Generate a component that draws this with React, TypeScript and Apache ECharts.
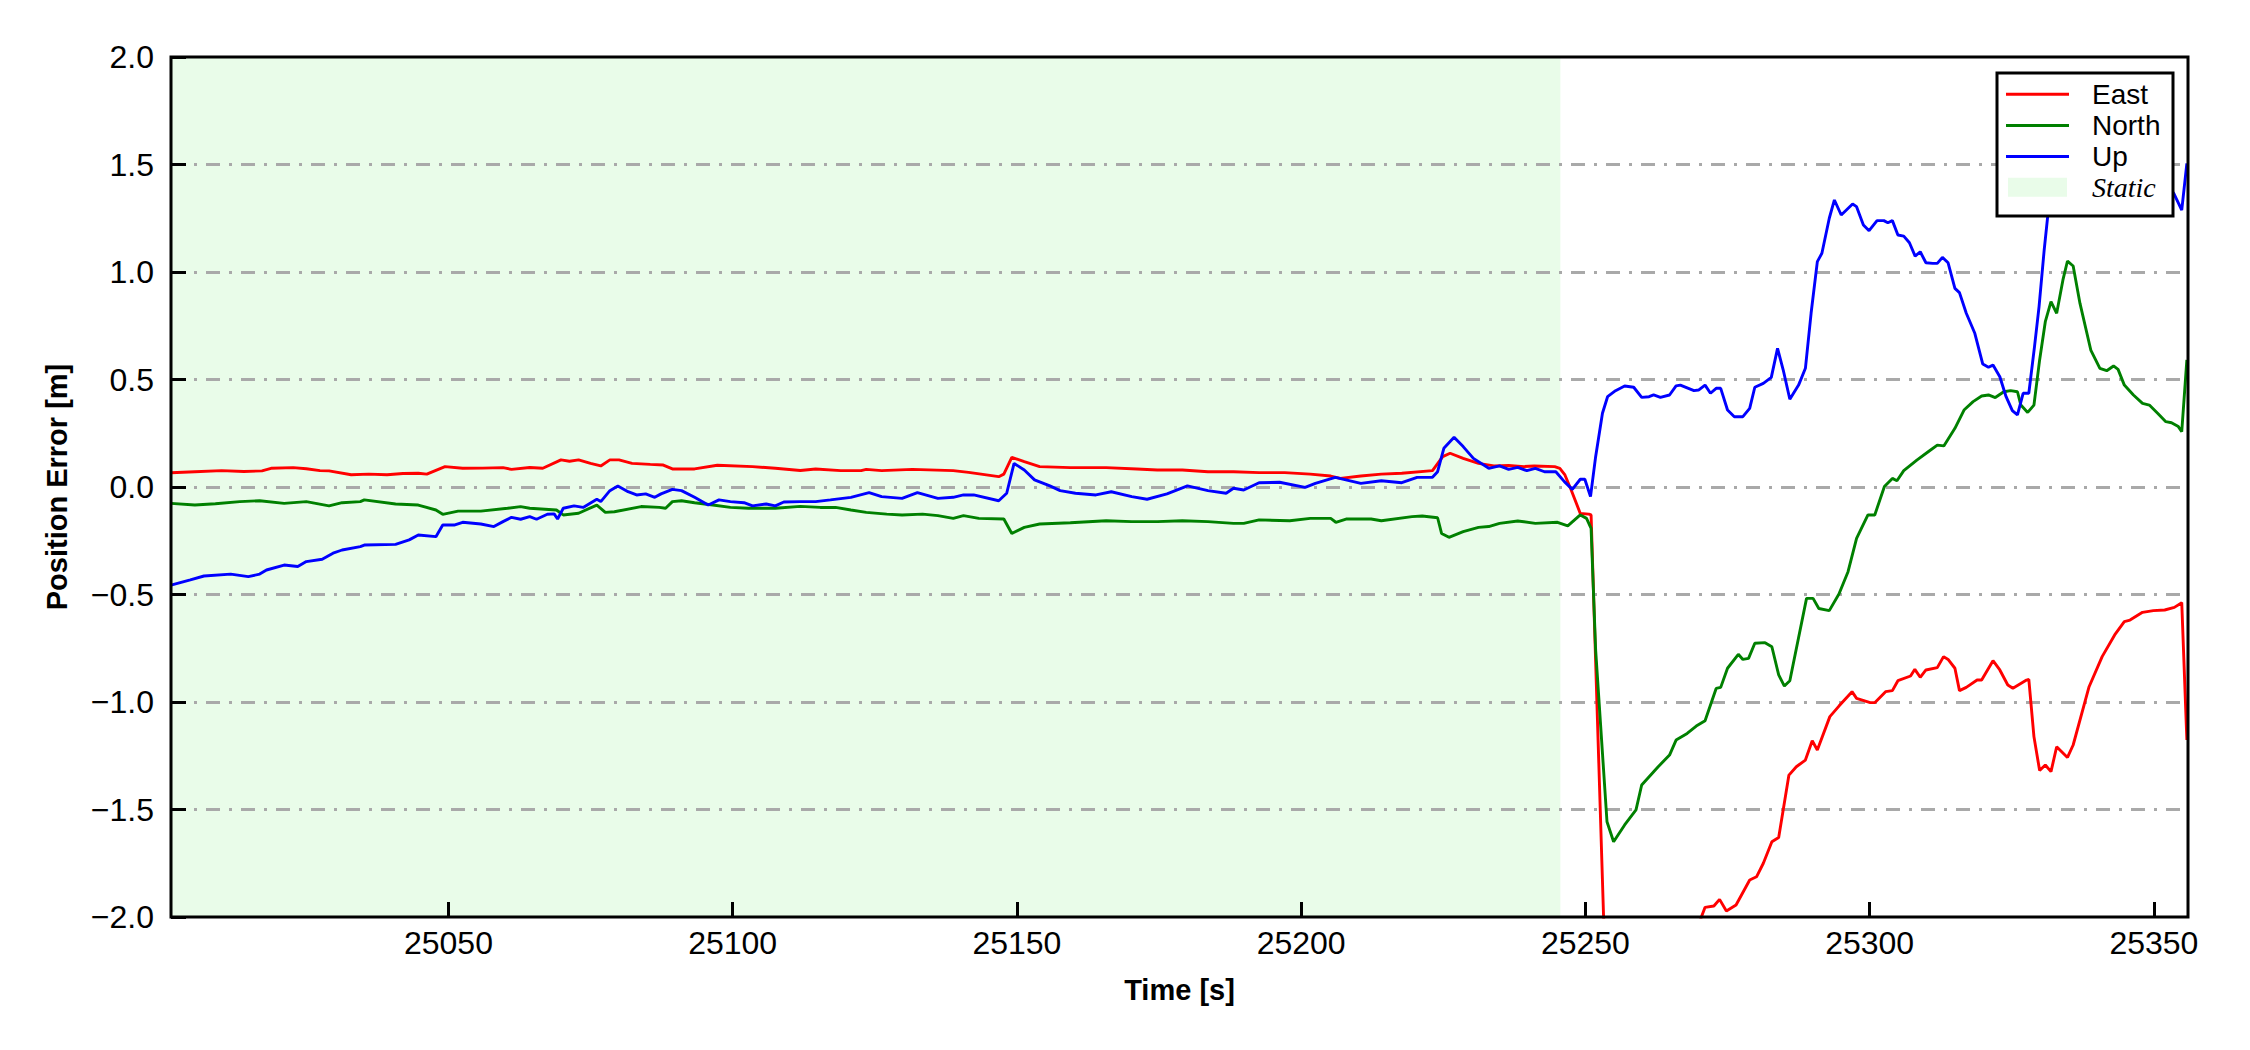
import React, { useEffect, useRef } from "react";
import * as echarts from "echarts";

// ---------- axis ranges & ticks ----------
const X_MIN = 25001.2;
const X_MAX = 25356.0;
const xTicks = [25050, 25100, 25150, 25200, 25250, 25300, 25350];
const Y_MIN = -2;
const Y_MAX = 2;
const Y_STEP = 0.5;

// ---------- static period ----------
const staticSpan = [25001.2, 25245.6];

// ---------- series names / colours ----------
const seriesNames = ["East", "North", "Up"];
const seriesColors = ["#ff0000", "#008000", "#0000ff"];
const staticLabel = "Static";
const staticColor = "#e9fce9";

// ---------- East ----------
const eastT = [
  25001.2, 25005.4, 25010.1, 25014, 25017.2, 25018.8, 25022.7, 25025, 25027.4, 25029.0,
  25032.9, 25036, 25039.2, 25042, 25044.7, 25046.2, 25049.4, 25052.5, 25056, 25059.6,
  25061.1, 25064.3, 25066.6, 25069.8, 25071.3, 25072.9, 25075, 25076.8, 25078.4, 25080.0,
  25082.3, 25085.5, 25087.8, 25089.4, 25093.3, 25097.3, 25103.5, 25107.5, 25111.9, 25114.6,
  25119.0, 25122.6, 25123.5, 25126.2, 25131.6, 25138.8, 25141.5, 25146.8, 25147.7, 25149.1,
  25151.3, 25154.0, 25159.4, 25165.7, 25171.1, 25174.7, 25179.1, 25183.6, 25188.1, 25192.6,
  25197.1, 25201.6, 25205.2, 25206.9, 25210.5, 25214.1, 25217.7, 25223.1, 25224.9, 25226.2,
  25228.5, 25231.2, 25233.9, 25236.5, 25239.2, 25241.0, 25244.6, 25245.5, 25246.4, 25247.5,
  25249.1, 25250.6, 25251.0, 25253.2, 25255.0, 25262.0, 25269.8, 25270.4, 25271.05, 25272.6,
  25273.6, 25274.8, 25276.5, 25278.9, 25280.1, 25281.3, 25282.8, 25284.0, 25285.8, 25287.1,
  25288.7, 25289.9, 25290.8, 25293.0, 25294.6, 25296.9, 25297.7, 25300.1, 25300.9, 25302.8,
  25304.0, 25304.97, 25307.2, 25307.95, 25308.9, 25309.9, 25311.9, 25313.0, 25313.8, 25315.0,
  25315.8, 25317.0, 25318.9, 25319.7, 25321.7, 25322.9, 25324.3, 25325.2, 25327.6, 25328.0,
  25328.9, 25329.9, 25330.9, 25331.9, 25332.9, 25334.8, 25335.8, 25338.6, 25340.9, 25343.1,
  25344.8, 25345.8, 25348.0, 25349.9, 25351.9, 25353.6, 25354.9, 25355.8,
];
const eastV = [
  0.066, 0.071, 0.076, 0.072, 0.075, 0.087, 0.090, 0.085, 0.076, 0.075,
  0.057, 0.060, 0.057, 0.063, 0.064, 0.060, 0.095, 0.087, 0.088, 0.090,
  0.082, 0.091, 0.087, 0.126, 0.120, 0.126, 0.110, 0.098, 0.126, 0.126,
  0.110, 0.105, 0.102, 0.084, 0.084, 0.101, 0.095, 0.087, 0.077, 0.084,
  0.076, 0.076, 0.082, 0.076, 0.082, 0.076, 0.068, 0.048, 0.060, 0.138,
  0.118, 0.095, 0.090, 0.090, 0.084, 0.079, 0.079, 0.071, 0.071, 0.067,
  0.067, 0.060, 0.051, 0.040, 0.051, 0.060, 0.064, 0.076, 0.141, 0.157,
  0.133, 0.110, 0.098, 0.100, 0.095, 0.098, 0.095, 0.087, 0.056, -0.014,
  -0.123, -0.126, -0.130, -2.0, -2.8, -2.6, -2.05, -2.0, -1.955, -1.949,
  -1.918, -1.972, -1.944, -1.828, -1.813, -1.750, -1.650, -1.630, -1.340, -1.301,
  -1.270, -1.180, -1.223, -1.068, -1.019, -0.952, -0.983, -1.003, -1.003, -0.952,
  -0.947, -0.901, -0.879, -0.848, -0.885, -0.851, -0.840, -0.789, -0.802, -0.843,
  -0.947, -0.932, -0.898, -0.898, -0.808, -0.851, -0.921, -0.936, -0.898, -0.895,
  -1.161, -1.319, -1.293, -1.324, -1.208, -1.258, -1.200, -0.929, -0.789, -0.688,
  -0.626, -0.619, -0.583, -0.575, -0.572, -0.560, -0.538, -1.177,
];

// ---------- North ----------
const northT = [
  25001.2, 25005.4, 25009, 25013.3, 25016.8, 25021.1, 25025.0, 25029.0, 25031.3, 25034.5,
  25035.2, 25040.7, 25044.7, 25047.8, 25049.0, 25051.7, 25055.7, 25060.4, 25062.7, 25064.3,
  25069.0, 25070.2, 25072.9, 25076.1, 25077.6, 25079.2, 25083.9, 25087.1, 25088.2, 25089.4,
  25091.0, 25093.3, 25096.5, 25099.6, 25102.8, 25107.5, 25111.9, 25115.4, 25118.1, 25120.8,
  25123.5, 25127.1, 25129.8, 25133.4, 25136.1, 25138.8, 25140.6, 25143.3, 25147.7, 25149.1,
  25151.3, 25154.0, 25159.4, 25165.7, 25170.2, 25174.7, 25179.1, 25183.6, 25188.1, 25189.9,
  25192.6, 25198.0, 25201.6, 25205.2, 25206.1, 25207.9, 25212.3, 25214.1, 25219.5, 25221.3,
  25224.0, 25224.7, 25226.0, 25228.5, 25231.2, 25233.0, 25234.9, 25238.1, 25241.2, 25245.1,
  25246.9, 25249.1, 25250.2, 25251.0, 25251.8, 25253.8, 25254.96, 25256.9, 25258.9, 25259.9,
  25262.8, 25264.8, 25265.95, 25267.9, 25269.5, 25271.05, 25273.0, 25273.8, 25275.0, 25276.9,
  25277.7, 25278.7, 25279.8, 25281.6, 25282.8, 25284.0, 25285.0, 25285.96, 25288.9, 25290.05,
  25291.06, 25292.9, 25294.6, 25296.2, 25297.7, 25299.7, 25300.9, 25302.6, 25304.0, 25304.8,
  25306.0, 25308.3, 25310.3, 25311.9, 25313.05, 25315.0, 25316.6, 25318.2, 25319.7, 25320.9,
  25322.1, 25323.6, 25324.8, 25326.0, 25326.6, 25327.8, 25328.9, 25329.9, 25330.9, 25331.9,
  25332.9, 25334.0, 25334.8, 25335.8, 25337.0, 25338.9, 25340.5, 25341.7, 25342.9, 25343.7,
  25344.8, 25346.4, 25348.0, 25349.2, 25350.7, 25352.1, 25353.1, 25354.3, 25354.9, 25355.8,
];
const northV = [
  -0.076, -0.084, -0.078, -0.068, -0.064, -0.076, -0.068, -0.088, -0.073, -0.068,
  -0.060, -0.079, -0.084, -0.107, -0.127, -0.112, -0.112, -0.099, -0.091, -0.099,
  -0.107, -0.130, -0.122, -0.084, -0.118, -0.115, -0.091, -0.095, -0.099, -0.068,
  -0.064, -0.073, -0.084, -0.095, -0.099, -0.099, -0.090, -0.095, -0.095, -0.107,
  -0.118, -0.126, -0.130, -0.126, -0.133, -0.146, -0.133, -0.146, -0.149, -0.216,
  -0.188, -0.172, -0.166, -0.157, -0.161, -0.161, -0.157, -0.161, -0.169, -0.169,
  -0.153, -0.157, -0.146, -0.146, -0.164, -0.149, -0.149, -0.157, -0.138, -0.135,
  -0.143, -0.216, -0.234, -0.208, -0.188, -0.184, -0.169, -0.158, -0.169, -0.164,
  -0.181, -0.130, -0.146, -0.192, -0.758, -1.557, -1.650, -1.572, -1.502, -1.386,
  -1.301, -1.247, -1.177, -1.146, -1.112, -1.087, -0.937, -0.932, -0.843, -0.778,
  -0.802, -0.797, -0.727, -0.724, -0.743, -0.874, -0.926, -0.901, -0.518, -0.518,
  -0.565, -0.575, -0.498, -0.394, -0.239, -0.130, -0.130, 0.002, 0.040, 0.029,
  0.076, 0.125, 0.164, 0.195, 0.191, 0.273, 0.358, 0.397, 0.423, 0.428,
  0.416, 0.443, 0.448, 0.443, 0.381, 0.347, 0.381, 0.591, 0.769, 0.862,
  0.808, 0.963, 1.051, 1.028, 0.854, 0.637, 0.552, 0.541, 0.563, 0.547,
  0.474, 0.428, 0.389, 0.381, 0.342, 0.304, 0.299, 0.281, 0.257, 0.591,
];

// ---------- Up ----------
const upT = [
  25001.2, 25004.6, 25007.0, 25011.7, 25014.8, 25016.8, 25018.0, 25021.1, 25023.5, 25025.0,
  25027.8, 25029.7, 25031.3, 25034.5, 25035.2, 25040.7, 25043.1, 25044.7, 25047.8, 25049.0,
  25051.0, 25052.5, 25055.7, 25058.0, 25059.6, 25061.1, 25062.7, 25064.3, 25065.5, 25067.4,
  25068.6, 25069.2, 25070.2, 25072.1, 25073.7, 25076.1, 25076.8, 25078.4, 25079.8, 25081.6,
  25083.1, 25084.7, 25086.3, 25087.4, 25089.4, 25091.0, 25093.3, 25095.7, 25097.6, 25099.6,
  25102.0, 25103.5, 25105.9, 25107.5, 25109.0, 25111.9, 25114.6, 25117.2, 25120.8, 25124.0,
  25126.2, 25129.8, 25132.5, 25136.1, 25138.8, 25140.6, 25142.4, 25146.8, 25148.2, 25149.5,
  25151.3, 25153.1, 25155.8, 25157.6, 25160.3, 25163.9, 25166.6, 25170.2, 25172.9, 25176.4,
  25180.0, 25183.6, 25186.8, 25188.1, 25189.9, 25192.6, 25196.2, 25200.7, 25202.5, 25206.0,
  25210.5, 25214.1, 25217.7, 25220.4, 25223.1, 25224.0, 25225.1, 25226.9, 25228.5, 25230.3,
  25233.0, 25234.9, 25236.5, 25238.1, 25239.7, 25241.2, 25242.8, 25244.8, 25246.3, 25247.7,
  25249.1, 25249.9, 25250.9, 25251.8, 25253.0, 25253.9, 25255.3, 25256.9, 25258.5, 25259.9,
  25261.2, 25262.0, 25263.2, 25264.8, 25265.95, 25266.7, 25269.1, 25269.9, 25271.05, 25272.0,
  25273.0, 25273.8, 25275.0, 25276.2, 25277.7, 25278.9, 25279.8, 25281.3, 25282.7, 25283.8,
  25284.8, 25285.96, 25287.5, 25288.7, 25289.7, 25290.8, 25291.6, 25292.9, 25293.8, 25295.0,
  25297.0, 25297.7, 25298.9, 25299.9, 25301.3, 25302.5, 25303.2, 25304.0, 25304.97, 25306.0,
  25307.0, 25308.0, 25308.9, 25309.9, 25311.1, 25311.9, 25312.8, 25313.8, 25315.0, 25315.8,
  25317.0, 25318.5, 25319.9, 25320.9, 25321.7, 25322.9, 25324.0, 25325.1, 25326.0, 25327.0,
  25328.0, 25329.0, 25329.8, 25330.7, 25331.5, 25332.3, 25333.2, 25335.5, 25338.5, 25342.0,
  25346.0, 25350.0, 25352.5, 25353.5, 25354.9, 25355.8,
];
const upV = [
  -0.456, -0.432, -0.414, -0.405, -0.417, -0.405, -0.386, -0.363, -0.370, -0.347,
  -0.336, -0.308, -0.293, -0.277, -0.270, -0.267, -0.246, -0.223, -0.231, -0.177,
  -0.177, -0.164, -0.172, -0.184, -0.161, -0.141, -0.150, -0.138, -0.150, -0.127,
  -0.125, -0.149, -0.099, -0.088, -0.095, -0.057, -0.068, -0.017, 0.005, -0.022,
  -0.037, -0.032, -0.048, -0.032, -0.011, -0.017, -0.048, -0.084, -0.060, -0.068,
  -0.073, -0.088, -0.079, -0.088, -0.070, -0.068, -0.068, -0.060, -0.048, -0.026,
  -0.045, -0.053, -0.026, -0.053, -0.048, -0.037, -0.037, -0.064, -0.029, 0.110,
  0.079, 0.033, 0.005, -0.017, -0.029, -0.037, -0.022, -0.045, -0.057, -0.032,
  0.005, -0.017, -0.029, -0.006, -0.014, 0.020, 0.022, -0.002, 0.017, 0.045,
  0.017, 0.029, 0.020, 0.045, 0.045, 0.071, 0.180, 0.231, 0.188, 0.133,
  0.087, 0.098, 0.082, 0.091, 0.076, 0.087, 0.071, 0.071, 0.025, -0.011,
  0.036, 0.036, -0.045, 0.141, 0.343, 0.420, 0.448, 0.470, 0.464, 0.417,
  0.420, 0.428, 0.417, 0.428, 0.470, 0.474, 0.448, 0.451, 0.474, 0.436,
  0.459, 0.459, 0.358, 0.327, 0.327, 0.366, 0.464, 0.482, 0.510, 0.645,
  0.544, 0.408, 0.474, 0.552, 0.808, 1.048, 1.087, 1.250, 1.335, 1.265,
  1.316, 1.304, 1.219, 1.192, 1.239, 1.239, 1.229, 1.239, 1.172, 1.167,
  1.136, 1.074, 1.094, 1.043, 1.040, 1.040, 1.068, 1.043, 0.924, 0.904,
  0.808, 0.715, 0.572, 0.557, 0.567, 0.513, 0.420, 0.355, 0.335, 0.436,
  0.436, 0.653, 0.839, 1.102, 1.304, 1.474, 1.62, 1.72, 1.68, 1.60,
  1.55, 1.45, 1.40, 1.366, 1.288, 1.505,
];

const FONT = '"Liberation Sans", Arial, sans-serif';

function pairs(t: number[], v: number[]) {
  return t.map((x, i) => [x, v[i]]);
}

function fmtY(v: number) {
  return v.toFixed(1).replace("-", "\u2212");
}

export default function App() {
  const ref = useRef<HTMLDivElement>(null);

  useEffect(() => {
    document.body.style.margin = "0";
    document.body.style.overflow = "hidden";
    if (!ref.current) return;
    const chart = echarts.init(ref.current, undefined, { renderer: "svg" });

    const lineData = [pairs(eastT, eastV), pairs(northT, northV), pairs(upT, upV)];

    // legend (matplotlib-like box, upper right)
    const LX = 1997, LY = 73, LW = 176, LH = 143;
    const rowY = [94.3, 125.5, 156.5, 187.3];
    const legendEls: any[] = [
      {
        type: "rect",
        shape: { x: LX, y: LY, width: LW, height: LH },
        style: { fill: "#ffffff", stroke: "#000000", lineWidth: 3 },
        z: 100,
      },
    ];
    seriesNames.forEach((n, i) => {
      legendEls.push({
        type: "line",
        shape: { x1: 2006, y1: rowY[i], x2: 2069, y2: rowY[i] },
        style: { stroke: seriesColors[i], lineWidth: 3 },
        z: 101,
      });
      legendEls.push({
        type: "text",
        x: 2092,
        y: rowY[i],
        style: {
          text: n,
          fill: "#000",
          fontSize: 28,
          fontFamily: FONT,
          textAlign: "left",
          textVerticalAlign: "middle",
          verticalAlign: "middle",
        },
        z: 101,
      });
    });
    legendEls.push({
      type: "rect",
      shape: { x: 2008, y: rowY[3] - 9.5, width: 59, height: 19 },
      style: { fill: staticColor },
      z: 101,
    });
    legendEls.push({
      type: "text",
      x: 2092,
      y: rowY[3],
      style: {
        text: staticLabel,
        fill: "#000",
        fontSize: 28,
        fontStyle: "italic",
        fontFamily: '"Liberation Serif", "Times New Roman", serif',
        textAlign: "left",
        textVerticalAlign: "middle",
        verticalAlign: "middle",
      },
      z: 101,
    });

    const option: any = {
      animation: false,
      backgroundColor: "#ffffff",
      grid: {
        left: 171,
        top: 57,
        width: 2017,
        height: 860,
        show: true,
        borderColor: "#000000",
        borderWidth: 3,
        backgroundColor: "transparent",
        containLabel: false,
        z: 5,
      },
      xAxis: {
        type: "value",
        min: X_MIN,
        max: X_MAX,
        minInterval: 50,
        maxInterval: 50,
        axisLine: { show: false, onZero: false },
        axisTick: {
          show: true,
          inside: true,
          length: 15,
          customValues: xTicks,
          lineStyle: { color: "#000", width: 3 },
        },
        axisLabel: {
          customValues: xTicks,
          margin: 10,
          fontSize: 32,
          color: "#000",
          fontFamily: FONT,
          formatter: (v: number) => String(Math.round(v)),
        },
        splitLine: { show: false },
        name: "Time [s]",
        nameLocation: "middle",
        nameGap: 58,
        nameTextStyle: { fontSize: 29, fontWeight: "bold", color: "#000", fontFamily: FONT },
      },
      yAxis: {
        type: "value",
        min: Y_MIN,
        max: Y_MAX,
        interval: Y_STEP,
        axisLine: { show: false, onZero: false },
        axisTick: {
          show: true,
          inside: true,
          length: 15,
          lineStyle: { color: "#000", width: 3 },
        },
        axisLabel: {
          margin: 17,
          fontSize: 32,
          color: "#000",
          fontFamily: FONT,
          formatter: fmtY,
        },
        splitLine: {
          show: true,
          showMinLine: false,
          showMaxLine: false,
          lineStyle: { color: "#a9a9a9", width: 3, type: [14, 9, 3, 9] },
        },
        name: "Position Error [m]",
        nameLocation: "middle",
        nameGap: 100,
        nameTextStyle: { fontSize: 29, fontWeight: "bold", color: "#000", fontFamily: FONT },
      },
      series: [
        {
          type: "line",
          name: staticLabel,
          data: [[X_MIN, 0]],
          symbol: "none",
          lineStyle: { width: 0, opacity: 0 },
          z: -5,
          silent: true,
          markArea: {
            silent: true,
            z: -5,
            itemStyle: { color: staticColor },
            data: [[{ xAxis: staticSpan[0] }, { xAxis: staticSpan[1] }]],
          },
        },
        ...seriesNames.map((n, i) => ({
          type: "line",
          name: n,
          data: lineData[i],
          symbol: "none",
          showSymbol: false,
          clip: true,
          lineStyle: { color: seriesColors[i], width: 2.9 },
          itemStyle: { color: seriesColors[i] },
          z: 3,
        })),
      ],
      graphic: { elements: legendEls },
    };

    chart.setOption(option);
    return () => chart.dispose();
  }, []);

  return <div ref={ref} style={{ width: 2250, height: 1050 }} />;
}
